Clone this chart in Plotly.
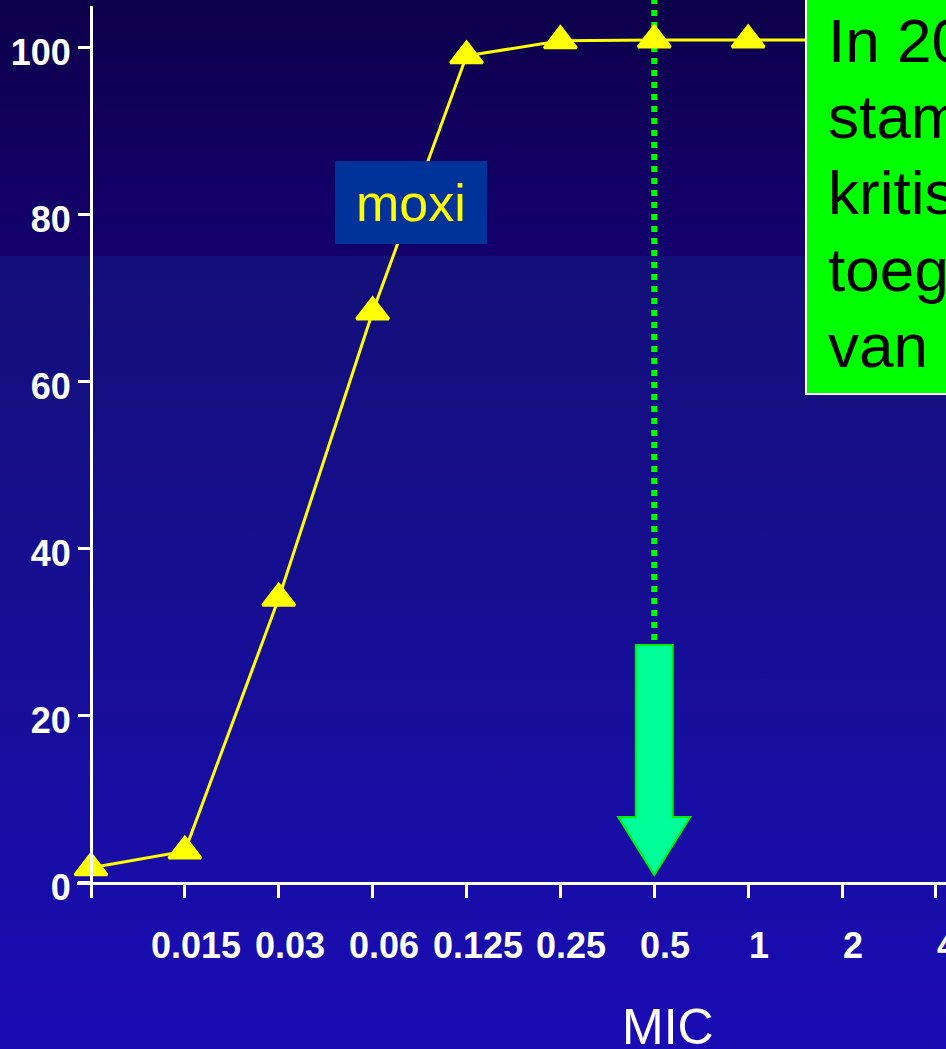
import base64
import plotly.graph_objects as go

# MIC classes (first class has no printed label) and cumulative % of strains
mic_labels = ["", "0.015", "0.03", "0.06", "0.125", "0.25", "0.5", "1", "2", "4"]
cum_pct = [1.7, 3.7, 34.0, 68.3, 99.0, 100.8, 100.9, 100.9, 100.9, 100.9]
series_name = "moxi"
breakpoint_label = "0.5"
y_ticks = [0, 20, 40, 60, 80, 100]
note_lines = ["In 2000", "stammen", "kritisch", "toegenomen", "van"]
x_title = "MIC"

# ---- page geometry (pixels) ----
W, H = 946, 1049
M_L, M_R, M_T, M_B = 77, 0, 6, 167
PW, PH = W - M_L - M_R, H - M_T - M_B
X_STEP = 93.88          # px between MIC classes
Y_SCALE = 8.345         # px per percent
X0_PX = 91              # px position of first class


def px(x):
    return (x - M_L) / PW


def py(y):
    return (H - M_B - y) / PH


positions = list(range(len(mic_labels)))
x_min = -(X0_PX - M_L) / X_STEP
x_max = x_min + PW / X_STEP
y_max = PH / Y_SCALE
bp = mic_labels.index(breakpoint_label)

FONT = "Arial, 'Liberation Sans', sans-serif"
TICK_FONT = dict(family=FONT, size=36, color="#ffffff", weight="bold")

# two-part vertical gradient used as the slide background
svg = (
    f'<svg xmlns="http://www.w3.org/2000/svg" width="{W}" height="{H}" '
    f'viewBox="0 0 {W} {H}" preserveAspectRatio="none">'
    '<defs>'
    '<linearGradient id="a" x1="0" y1="0" x2="0" y2="1">'
    '<stop offset="0" stop-color="#0d004a"/><stop offset="1" stop-color="#13006e"/>'
    '</linearGradient>'
    '<linearGradient id="b" x1="0" y1="0" x2="0" y2="1">'
    '<stop offset="0" stop-color="#130f78"/><stop offset="1" stop-color="#1a0cb4"/>'
    '</linearGradient>'
    '</defs>'
    f'<rect x="0" y="0" width="{W}" height="256" fill="url(#a)"/>'
    f'<rect x="0" y="256" width="{W}" height="{H - 256}" fill="url(#b)"/>'
    '</svg>'
)
bg_uri = "data:image/svg+xml;base64," + base64.b64encode(svg.encode()).decode()

fig = go.Figure()
fig.add_trace(go.Scatter(
    x=positions,
    y=cum_pct,
    mode="lines+markers",
    name=series_name,
    line=dict(color="#ffff00", width=3),
    marker=dict(symbol="triangle-up", size=28, color="#ffff00",
                line=dict(color="#ffff00", width=3)),
    cliponaxis=False,
    showlegend=False,
    hoverinfo="skip",
))

shapes = [
    # dotted marker of the breakpoint
    dict(type="line", xref="x", yref="paper", x0=bp, x1=bp,
         y0=py(640), y1=py(-2), layer="below",
         line=dict(color="#00ff00", width=6, dash="6px,6px")),
    # arrow pointing at the breakpoint on the MIC axis
    dict(type="path", xref="x", yref="y", layer="above",
         path=(f"M {bp - 0.197},{28.4} L {bp + 0.197},{28.4} L {bp + 0.197},{7.8} "
               f"L {bp + 0.384},{7.8} L {bp},{0.84} L {bp - 0.384},{7.8} "
               f"L {bp - 0.197},{7.8} Z"),
         fillcolor="#00ff99", line=dict(color="#00ee00", width=2)),
    # series label box
    dict(type="rect", xref="paper", yref="paper", layer="above",
         x0=px(335), x1=px(487), y0=py(244), y1=py(161),
         fillcolor="#003399", line=dict(width=0)),
    # note box
    dict(type="rect", xref="paper", yref="paper", layer="above",
         x0=px(806), x1=px(1000), y0=py(394), y1=py(-10),
         fillcolor="#00ff00", line=dict(color="#ffffff", width=2)),
]

annotations = [
    dict(text=series_name, xref="paper", yref="paper", x=px(411), y=py(203),
         xanchor="center", yanchor="middle", showarrow=False,
         font=dict(family=FONT, size=52, color="#ffff00")),
    dict(text=x_title, xref="paper", yref="paper", x=px(668), y=py(1027),
         xanchor="center", yanchor="middle", showarrow=False,
         font=dict(family=FONT, size=50, color="#ffffff")),
]
for line_text, baseline in zip(note_lines, [62, 138, 214, 291, 367]):
    annotations.append(dict(
        text=line_text, xref="paper", yref="paper",
        x=px(826), y=py(baseline - 21.5), xanchor="left", yanchor="middle",
        showarrow=False, font=dict(family=FONT, size=62, color="#000000")))

# MIC class labels, set slightly right of their ticks
for pos, lab in zip(positions, mic_labels):
    if lab:
        annotations.append(dict(
            text=lab, xref="x", yref="paper", x=pos, y=py(945), xshift=11,
            xanchor="center", yanchor="middle", showarrow=False, font=TICK_FONT))

fig.update_layout(
    width=W, height=H,
    margin=dict(l=M_L, r=M_R, t=M_T, b=M_B, pad=0),
    paper_bgcolor="#140a90",
    plot_bgcolor="rgba(0,0,0,0)",
    images=[dict(source=bg_uri, xref="paper", yref="paper",
                 x=px(0), y=py(0), sizex=W / PW, sizey=H / PH,
                 xanchor="left", yanchor="top", sizing="stretch",
                 layer="below")],
    shapes=shapes,
    annotations=annotations,
    xaxis=dict(
        range=[x_min, x_max], tickvals=positions, showticklabels=False,
        showgrid=False, zeroline=False, showline=True,
        linecolor="#ffffff", linewidth=3,
        ticks="outside", ticklen=13, tickwidth=3, tickcolor="#ffffff",
        fixedrange=True,
    ),
    yaxis=dict(
        range=[0, y_max], tickvals=y_ticks,
        anchor="free", position=px(X0_PX),
        showgrid=False, zeroline=False, showline=True,
        linecolor="#ffffff", linewidth=3,
        ticks="outside", ticklen=12, tickwidth=3, tickcolor="#ffffff",
        ticklabelshift=5,
        tickfont=TICK_FONT,
        fixedrange=True,
    ),
)

fig.write_html("out.html", config=dict(displayModeBar=False))
